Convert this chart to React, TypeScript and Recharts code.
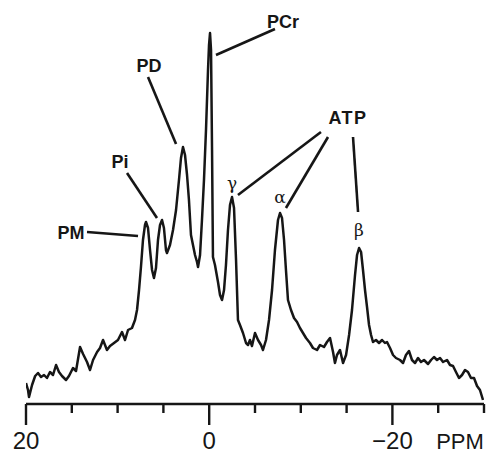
import React from 'react';
import { LineChart, Line, XAxis, YAxis, ReferenceLine, ReferenceDot } from 'recharts';

// Chemical shift (ppm) and signal intensity (arbitrary units)
const ppm = [
  20.0, 19.78, 19.67, 19.34, 19.0, 18.69, 18.36, 18.03, 17.71, 17.38, 17.05, 16.72, 16.4, 16.07,
  15.63, 15.31, 14.87, 14.54, 14.1, 13.77, 13.34, 13.01, 12.68, 12.24, 11.92, 11.59, 11.16, 10.83,
  10.39, 9.96, 9.52, 9.19, 8.86, 8.43, 8.1, 7.88, 7.66, 7.45, 7.23, 7.01, 6.9, 6.68, 6.46, 6.24,
  6.03, 5.81, 5.59, 5.37, 5.15, 4.94, 4.72, 4.61, 4.28, 3.95, 3.62, 3.3, 3.08, 2.86, 2.64, 2.42,
  2.21, 1.99, 1.77, 1.55, 1.33, 1.22, 1.0, 0.79, 0.57, 0.35, 0.13, 0.02, -0.09, -0.2, -0.31, -0.41,
  -0.63, -0.96, -1.18, -1.4, -1.62, -1.83, -2.05, -2.27, -2.49, -2.71, -2.93, -3.14, -3.36, -3.69,
  -4.02, -4.24, -4.45, -4.67, -5.0, -5.33, -5.66, -5.87, -6.2, -6.53, -6.86, -7.18, -7.51, -7.73,
  -7.95, -8.17, -8.38, -8.6, -8.93, -9.26, -9.59, -9.91, -10.24, -10.57, -11.0, -11.33, -11.77,
  -12.1, -12.53, -12.86, -13.19, -13.52, -13.73, -13.95, -14.28, -14.61, -14.94, -15.27, -15.59,
  -15.92, -16.14, -16.36, -16.58, -16.79, -17.01, -17.23, -17.45, -17.67, -17.88, -18.21, -18.54,
  -18.87, -19.19, -19.41, -19.74, -20.07, -20.39, -20.83, -21.16, -21.48, -21.81, -22.14, -22.47,
  -22.8, -23.12, -23.45, -23.89, -24.22, -24.54, -24.87, -25.2, -25.53, -25.96, -26.29, -26.62,
  -26.94, -27.27, -27.6, -27.93, -28.25, -28.58, -28.91, -29.24, -29.56, -29.89,
];

const intensity = [
  21, 14, 7, 19, 28, 31, 27, 29, 26, 32, 29, 39, 32, 28,
  24, 28, 36, 33, 57, 50, 42, 34, 44, 52, 56, 64, 54, 58,
  61, 64, 72, 64, 74, 76, 84, 94, 114, 137, 164, 179, 182, 176, 154, 134,
  126, 136, 164, 179, 184, 176, 154, 151, 159, 174, 194, 224, 246, 257, 249, 229,
  204, 169, 159, 149, 142, 137, 149, 184, 224, 274, 334, 359, 371, 354, 254, 147,
  139, 122, 109, 104, 114, 139, 174, 199, 207, 196, 144, 84, 79, 71,
  61, 59, 64, 58, 71, 64, 59, 54, 64, 84, 114, 154, 184, 191,
  186, 164, 134, 104, 94, 86, 82, 76, 71, 66, 61, 56, 54,
  59, 57, 62, 66, 52, 41, 49, 54, 41, 49, 69, 94,
  129, 149, 156, 152, 134, 114, 97, 79, 69, 62, 64, 61,
  64, 61, 62, 56, 49, 46, 44, 41, 49, 53, 44, 41,
  46, 42, 44, 40, 44, 47, 44, 46, 42, 44, 39, 38,
  32, 26, 29, 34, 32, 26, 26, 18, 14, 4,
];

const xTicks = [20, 15, 10, 5, 0, -5, -10, -15, -20, -25, -30];
const majorTicks = [20, 0, -20];
const tickLabels = ['20', '0', '\u221220'];
const axisUnit = 'PPM';

// Peak assignments
const peakLabels = ['PCr', 'PD', 'Pi', 'PM', 'ATP'];
const peakLabelPpm = [-8.06, 6.57, 9.74, 15.09, -15.15];
const peakLabelInt = [382, 338, 242, 171, 286];

const greekLabels = ['γ', 'α', 'β'];
const greekPpm = [-2.49, -7.73, -16.35];
const greekInt = [221, 207, 174];

// Leader lines: [ppm1, int1, ppm2, int2]
const leaders: number[][] = [
  [-0.74, 349, -7.18, 375],
  [6.68, 327, 3.62, 260],
  [8.97, 231, 5.7, 186],
  [13.34, 172, 7.77, 168],
  [-12.2, 272, -3.14, 209],
  [-12.97, 267, -8.38, 196],
  [-15.7, 267, -16.25, 192],
];

const data = ppm.map((p, i) => ({ ppm: p, v: intensity[i] }));

const INK = '#161616';

const Tick = (props: any) => {
  const { x, y, payload } = props;
  const val = payload.value;
  const mi = majorTicks.indexOf(val);
  const major = mi >= 0;
  return (
    <g>
      <line x1={x} x2={x} y1={y} y2={y + (major ? 21 : 9)} stroke={INK} strokeWidth={2.4} />
      {major && (
        <text
          x={x}
          y={y + 45}
          textAnchor="middle"
          fontFamily="'Liberation Sans', Arial, sans-serif"
          fontSize={24}
          fill={INK}
        >
          {tickLabels[mi]}
        </text>
      )}
      {val === -30 && (
        <text
          x={x - 24}
          y={y + 45}
          textAnchor="middle"
          fontFamily="'Liberation Sans', Arial, sans-serif"
          fontSize={22}
          fill={INK}
        >
          {axisUnit}
        </text>
      )}
    </g>
  );
};

export default function App() {
  return (
    <div style={{ position: 'absolute', left: 0, top: 0, background: '#fff' }}>
      <LineChart
        width={498}
        height={454}
        data={data}
        margin={{ top: 20, right: 14, bottom: 0, left: 26 }}
      >
        <XAxis
          dataKey="ppm"
          type="number"
          domain={[-30, 20]}
          reversed
          ticks={xTicks}
          interval={0}
          tick={<Tick />}
          tickLine={false}
          tickSize={0}
          tickMargin={0}
          height={50}
          axisLine={{ stroke: INK, strokeWidth: 2.4 }}
          allowDataOverflow
        />
        <YAxis hide domain={[0, 384]} allowDataOverflow />
        {leaders.map((l, i) => (
          <ReferenceLine
            key={'l' + i}
            segment={[
              { x: l[0], y: l[1] },
              { x: l[2], y: l[3] },
            ]}
            stroke={INK}
            strokeWidth={2.6}
            ifOverflow="visible"
          />
        ))}
        {peakLabels.map((t, i) => (
          <ReferenceDot
            key={'p' + i}
            x={peakLabelPpm[i]}
            y={peakLabelInt[i]}
            r={0}
            ifOverflow="visible"
            shape={(p: any) => (
              <text
                x={p.cx}
                y={p.cy}
                dy="0.36em"
                textAnchor="middle"
                fontFamily="'Liberation Sans', Arial, sans-serif"
                fontWeight="bold"
                fontSize={18}
                letterSpacing={t === 'ATP' ? 1.5 : 0}
                fill={INK}
              >
                {t}
              </text>
            )}
          />
        ))}
        {greekLabels.map((t, i) => (
          <ReferenceDot
            key={'g' + i}
            x={greekPpm[i]}
            y={greekInt[i]}
            r={0}
            ifOverflow="visible"
            shape={(p: any) => (
              <text
                x={p.cx}
                y={p.cy}
                dy="0.36em"
                textAnchor="middle"
                fontFamily="'DejaVu Serif', 'Liberation Serif', serif"
                fontSize={17}
                fill={INK}
              >
                {t}
              </text>
            )}
          />
        ))}
        <Line
          dataKey="v"
          type="linear"
          stroke={INK}
          strokeWidth={2.5}
          dot={false}
          isAnimationActive={false}
          strokeLinejoin="round"
        />
      </LineChart>
    </div>
  );
}
